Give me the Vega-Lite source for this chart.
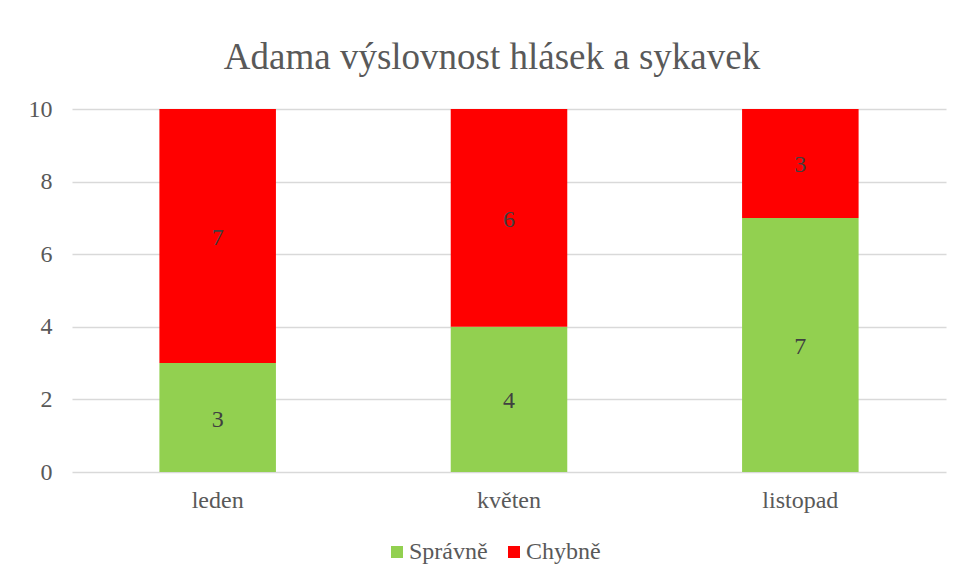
{
  "$schema": "https://vega.github.io/schema/vega-lite/v6.json",
  "autosize": "none",
  "width": 874,
  "height": 363,
  "padding": {"left": 72, "top": 109, "right": 17, "bottom": 112},
  "background": "white",
  "title": {
    "text": "Adama výslovnost hlásek a sykavek",
    "font": "Liberation Serif",
    "fontSize": 37,
    "fontWeight": "normal",
    "color": "#595959",
    "anchor": "middle",
    "dx": -17,
    "offset": -9,
    "baseline": "alphabetic"
  },
  "config": {
    "view": {"stroke": null},
    "font": "Liberation Serif",
    "legend": {"labelFont": "Liberation Serif", "labelFontSize": 24, "labelColor": "#595959"}
  },
  "data": {
    "values": [
      {"mesic": "leden", "typ": "Správně", "pocet": 3},
      {"mesic": "leden", "typ": "Chybně", "pocet": 7},
      {"mesic": "květen", "typ": "Správně", "pocet": 4},
      {"mesic": "květen", "typ": "Chybně", "pocet": 6},
      {"mesic": "listopad", "typ": "Správně", "pocet": 7},
      {"mesic": "listopad", "typ": "Chybně", "pocet": 3}
    ]
  },
  "transform": [
    {"stack": "pocet", "groupby": ["mesic"], "sort": [{"field": "typ", "order": "descending"}], "as": ["y0", "y1"]},
    {"calculate": "(datum.y0 + datum.y1) / 2", "as": "ymid"}
  ],
  "encoding": {
    "x": {
      "field": "mesic",
      "type": "nominal",
      "sort": ["leden", "květen", "listopad"],
      "scale": {"paddingInner": 0.6, "paddingOuter": 0.3},
      "axis": {
        "title": null,
        "labelAngle": 0,
        "domain": false,
        "ticks": false,
        "labelFont": "Liberation Serif",
        "labelFontSize": 24,
        "labelColor": "#595959",
        "labelPadding": 16
      }
    }
  },
  "layer": [
    {
      "mark": {"type": "bar"},
      "encoding": {
        "y": {
          "field": "y0",
          "type": "quantitative",
          "scale": {"domain": [0, 10], "nice": false},
          "axis": {
            "title": null,
            "values": [0, 2, 4, 6, 8, 10],
            "domain": false,
            "ticks": false,
            "gridColor": "#d9d9d9",
            "gridWidth": 1.3,
            "labelFont": "Liberation Serif",
            "labelFontSize": 24,
            "labelColor": "#595959",
            "labelPadding": 20
          }
        },
        "y2": {"field": "y1"},
        "color": {
          "field": "typ",
          "type": "nominal",
          "scale": {"domain": ["Správně", "Chybně"], "range": ["#92D050", "#FF0000"]},
          "legend": {
            "title": null,
            "orient": "none",
            "direction": "horizontal",
            "legendX": 313,
            "legendY": 431,
            "padding": 0,
            "symbolType": "square",
            "symbolSize": 144,
            "symbolStrokeWidth": 0,
            "labelFont": "Liberation Serif",
            "labelFontSize": 24,
            "labelColor": "#595959",
            "labelOffset": 0,
            "columnPadding": 14
          }
        }
      }
    },
    {
      "mark": {"type": "text", "font": "Liberation Serif", "fontSize": 24, "color": "#404040", "baseline": "middle", "dy": 2},
      "encoding": {
        "y": {"field": "ymid", "type": "quantitative"},
        "text": {"field": "pocet", "type": "quantitative"}
      }
    }
  ]
}
